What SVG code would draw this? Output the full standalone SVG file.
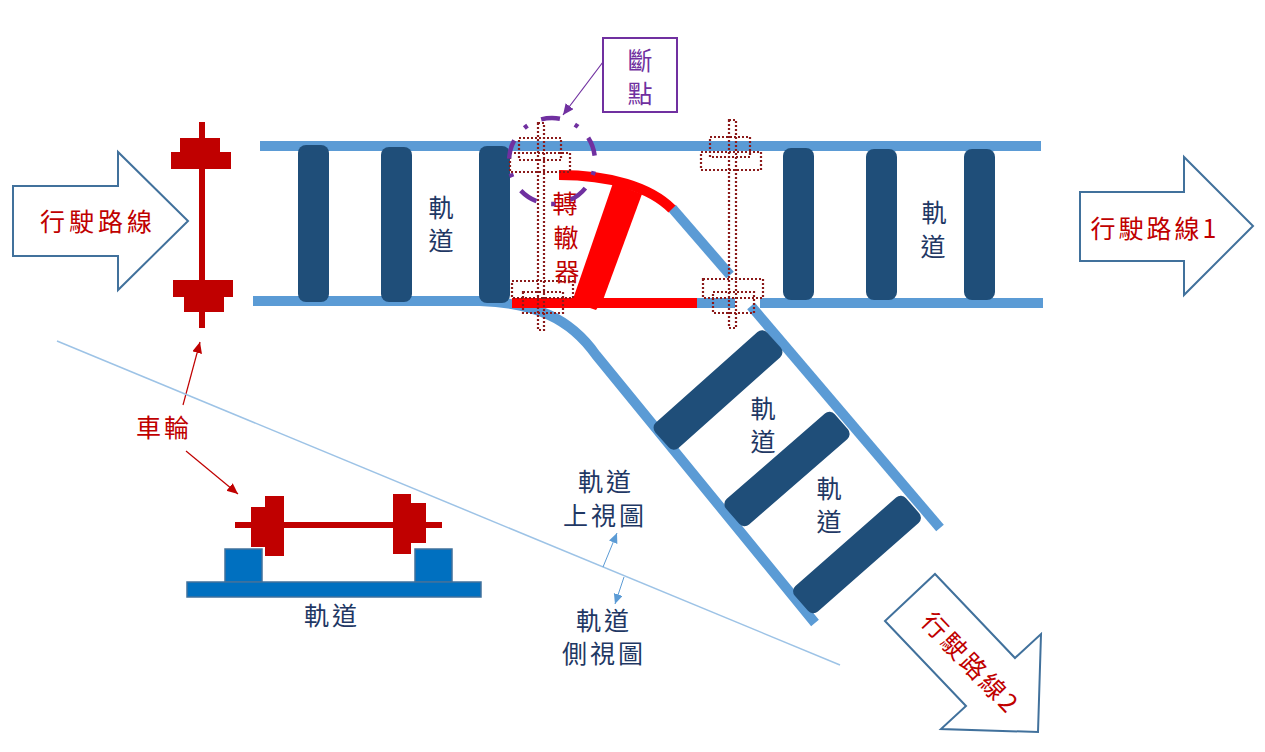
<svg xmlns="http://www.w3.org/2000/svg" width="1265" height="752" viewBox="0 0 1265 752">
<defs>
<marker id="mRed" markerUnits="userSpaceOnUse" markerWidth="12" markerHeight="12" refX="11" refY="5" orient="auto"><path d="M0 0L11 5L0 10z" fill="#C00000"/></marker>
<marker id="mPur" markerUnits="userSpaceOnUse" markerWidth="12" markerHeight="12" refX="11" refY="5" orient="auto"><path d="M0 0L11 5L0 10z" fill="#7030A0"/></marker>
<marker id="mBlu" markerUnits="userSpaceOnUse" markerWidth="11" markerHeight="10" refX="10" refY="4.5" orient="auto"><path d="M0 0L10 4.5L0 9z" fill="#5B9BD5"/></marker>
</defs>
<style>
text{font-family:"Noto Sans CJK TC","Noto Sans CJK SC",sans-serif;font-size:25px;text-anchor:middle;dominant-baseline:central}
.ls{letter-spacing:3px}
.nv{fill:#1F3864}.rd{fill:#C00000}.pu{fill:#7030A0}
.rail{fill:none;stroke:#5B9BD5;stroke-width:10}
.slp{fill:#1F4E79}
.w{fill:#C00000}
.ba{fill:#fff;stroke:#41719C;stroke-width:2}
.dot{fill:none;stroke:#8B1A1A;stroke-width:2.2;stroke-dasharray:2 2}
.sv{fill:#0070C0;stroke:#41719C;stroke-width:1.5}
</style>
<rect width="1265" height="752" fill="#fff"/>
<g id="track">
<path class="rail" d="M260 146H1041"/>
<path class="rail" d="M253 301H480C535 303 570 318 596 355L815 623"/>
<path class="rail" d="M697 303H735M760 303H1043"/>
<path class="rail" d="M672 208L730 275"/>
<path class="rail" d="M751 306L940 528"/>
<rect class="slp" x="298" y="145" width="31" height="157" rx="8"/>
<rect class="slp" x="381" y="147" width="31" height="155" rx="8"/>
<rect class="slp" x="479" y="146" width="31" height="157" rx="8"/>
<rect class="slp" x="783" y="148" width="31" height="152" rx="8"/>
<rect class="slp" x="866" y="149" width="31" height="151" rx="8"/>
<rect class="slp" x="964" y="149" width="31" height="151" rx="8"/>
<rect class="slp" x="643" y="373" width="150" height="34" rx="7" transform="rotate(-41.7 718 390)"/>
<rect class="slp" x="715" y="452" width="144" height="34" rx="7" transform="rotate(-41 787 469)"/>
<rect class="slp" x="783" y="537.5" width="148" height="34" rx="7" transform="rotate(-41.3 857 554.5)"/>
</g>
<g id="switch">
<path d="M559 175C610 175 650 187 672 209" fill="none" stroke="#f00" stroke-width="10"/>
<path d="M512 303H697" fill="none" stroke="#f00" stroke-width="10"/>
<path d="M613 183L642 194L603 300L596 310L572 302z" fill="#f00"/>
</g>
<g id="switch-label"><text class="rd" x="565" y="202">轉</text><text class="rd" x="566" y="236">轍</text><text class="rd" x="567" y="270">器</text></g>
<g id="ghost-wheels">
<rect class="dot" x="538" y="123" width="6" height="207"/>
<rect class="dot" x="519" y="138" width="42" height="22"/>
<rect class="dot" x="510" y="153" width="60" height="19"/>
<rect class="dot" x="512" y="281" width="61" height="17"/>
<rect class="dot" x="523" y="292" width="40" height="21"/>
<rect class="dot" x="729" y="120" width="7" height="208"/>
<rect class="dot" x="710" y="137" width="40" height="20"/>
<rect class="dot" x="701" y="152" width="60" height="18"/>
<rect class="dot" x="703" y="279" width="60" height="19"/>
<rect class="dot" x="713" y="292" width="41" height="21"/>
</g>
<g id="break-circle"><circle cx="552" cy="161" r="43" fill="none" stroke="#7030A0" stroke-width="4.5" stroke-dasharray="19 16 4 15" stroke-dashoffset="24.7"/></g>
<g id="connectors" fill="none">
<path d="M603 62L563 115" stroke="#7030A0" stroke-width="1.2" marker-end="url(#mPur)"/>
<path d="M183 405L200 342" stroke="#C00000" stroke-width="1.2" marker-end="url(#mRed)"/>
<path d="M186 451L238 494" stroke="#C00000" stroke-width="1.2" marker-end="url(#mRed)"/>
<path d="M57 341L840 665" stroke="#9DC3E6" stroke-width="1.5"/>
<path d="M603 567L617 533" stroke="#5B9BD5" stroke-width="1" marker-end="url(#mBlu)"/>
<path d="M624 577L615 604" stroke="#5B9BD5" stroke-width="1" marker-end="url(#mBlu)"/>
</g>
<g id="break-label"><rect x="603" y="38" width="74" height="74" fill="#fff" stroke="#7030A0" stroke-width="2"/><text class="pu" x="640" y="59">斷</text><text class="pu" x="640" y="92">點</text></g>
<g id="route-in"><path class="ba" d="M13 186H118V152L188 221L118 290V256H13z"/><text class="rd" x="98" y="220" style="letter-spacing:4px">行駛路線</text></g>
<g id="route-1"><path class="ba" d="M1080 192H1184V157L1253 226L1184 295V261H1080z"/><text class="rd" x="1155" y="227" style="letter-spacing:3px">行駛路線1</text></g>
<g id="route-2"><path class="ba" d="M935 574L1015 658L1041 634L1038 732L941 729L966 706L885 621z"/><text class="rd" transform="translate(972 662) rotate(46.5)" style="letter-spacing:3px">行駛路線2</text></g>
<g id="wheel-top">
<rect class="w" x="199" y="122" width="6" height="206"/>
<rect class="w" x="180" y="138" width="40" height="14"/><rect class="w" x="171" y="152" width="60" height="17"/>
<rect class="w" x="173" y="280" width="60" height="17"/><rect class="w" x="184" y="297" width="40" height="15"/>
</g>
<g id="wheel-label"><text class="rd ls" x="164" y="426">車輪</text></g>
<g id="side-view">
<rect class="sv" x="225" y="549" width="37" height="33"/><rect class="sv" x="415" y="549" width="37" height="33"/><rect class="sv" x="187" y="582" width="294" height="15"/>
<rect class="w" x="235" y="522" width="207" height="6"/>
<rect class="w" x="251" y="507" width="14" height="40"/><rect class="w" x="265" y="496" width="19" height="60"/>
<rect class="w" x="393" y="494" width="18" height="60"/><rect class="w" x="411" y="503" width="15" height="40"/>
<text class="nv ls" x="332" y="614">軌道</text>
</g>
<g id="track-labels">
<text class="nv" x="441" y="206">軌</text><text class="nv" x="441" y="239">道</text>
<text class="nv" x="934" y="211">軌</text><text class="nv" x="933" y="245">道</text>
<text class="nv" x="763" y="407">軌</text><text class="nv" x="763" y="440">道</text>
<text class="nv" x="829" y="487">軌</text><text class="nv" x="829" y="520">道</text>
</g>
<g id="top-view-label"><text class="nv ls" x="606" y="480">軌道</text><text class="nv ls" x="605" y="514">上視圖</text></g>
<g id="side-view-label"><text class="nv ls" x="604" y="619">軌道</text><text class="nv ls" x="604" y="652">側視圖</text></g>
</svg>
